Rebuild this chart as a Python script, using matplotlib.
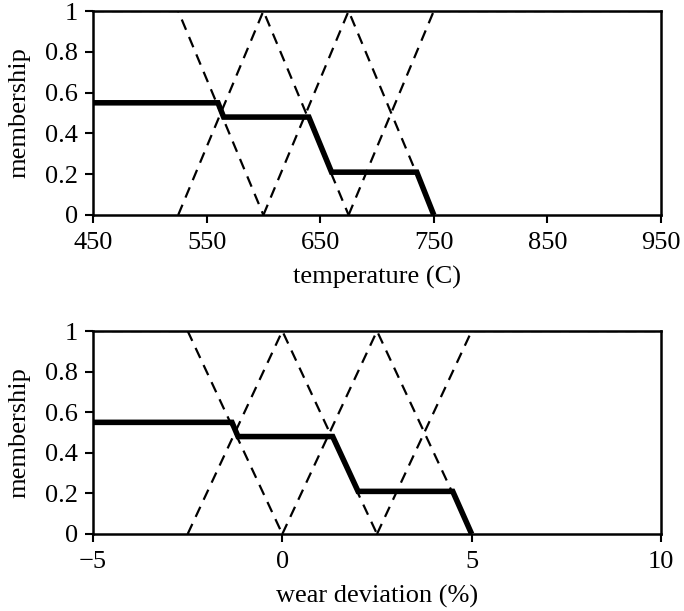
import numpy as np
import matplotlib
matplotlib.use("Agg")
import matplotlib.pyplot as plt
from matplotlib.ticker import FormatStrFormatter

plt.rcParams["font.family"] = ["Liberation Serif", "DejaVu Serif"]
plt.rcParams["font.size"] = 19

# temperature panel
temp_mf_x = [
    [450, 525, 600],
    [525, 600, 675],
    [600, 675, 750],
    [675, 750, 950],
]
temp_mf_y = [
    [1, 1, 0],
    [0, 1, 0],
    [0, 1, 0],
    [0, 1, 1],
]
temp_out_x = [450, 560, 565, 640, 660, 735, 750]
temp_out_y = [0.55, 0.55, 0.48, 0.48, 0.21, 0.21, 0.0]
temp_ticks = [450, 550, 650, 750, 850, 950]

# wear deviation panel
wear_mf_x = [
    [-5, -2.5, 0],
    [-2.5, 0, 2.5],
    [0, 2.5, 5],
    [2.5, 5, 10],
]
wear_mf_y = [
    [1, 1, 0],
    [0, 1, 0],
    [0, 1, 0],
    [0, 1, 1],
]
wear_out_x = [-5, -1.33, -1.17, 1.33, 2.0, 4.5, 5.0]
wear_out_y = [0.55, 0.55, 0.48, 0.48, 0.21, 0.21, 0.0]
wear_ticks = [-5, 0, 5, 10]

y_ticks = [0, 0.2, 0.4, 0.6, 0.8, 1]


def _panel(ax, mf_x, mf_y, out_x, out_y, xticks, xlabel):
    for xs, ys in zip(mf_x, mf_y):
        ax.plot(xs, ys, color="k", ls=(0, (5, 3.5)), lw=1.6)
    ax.plot(out_x, out_y, color="k", lw=4.0, solid_joinstyle="miter",
            solid_capstyle="butt")
    ax.set_xlim(xticks[0], xticks[-1])
    ax.set_ylim(0, 1)
    ax.set_xticks(xticks)
    ax.set_yticks(y_ticks)
    ax.yaxis.set_major_formatter(FormatStrFormatter("%g"))
    ax.tick_params(direction="out", length=6, width=1.5, top=False, right=False)
    ax.tick_params(axis="x", pad=6)
    ax.tick_params(axis="y", pad=5)
    for sp in ax.spines.values():
        sp.set_linewidth(1.8)
    ax.set_xlabel(xlabel, labelpad=9)
    ax.set_ylabel("membership", labelpad=10)


fig = plt.figure(figsize=(6.84, 6.11), dpi=100)
ax_t = fig.add_axes([93 / 684, 1 - 215 / 611, 568 / 684, 204 / 611])
ax_w = fig.add_axes([93 / 684, 1 - 534 / 611, 568 / 684, 203 / 611])

_panel(ax_t, temp_mf_x, temp_mf_y, temp_out_x, temp_out_y, temp_ticks,
       "temperature (C)")
_panel(ax_w, wear_mf_x, wear_mf_y, wear_out_x, wear_out_y, wear_ticks,
       "wear deviation (%)")

fig.savefig("out.png", dpi=100)
